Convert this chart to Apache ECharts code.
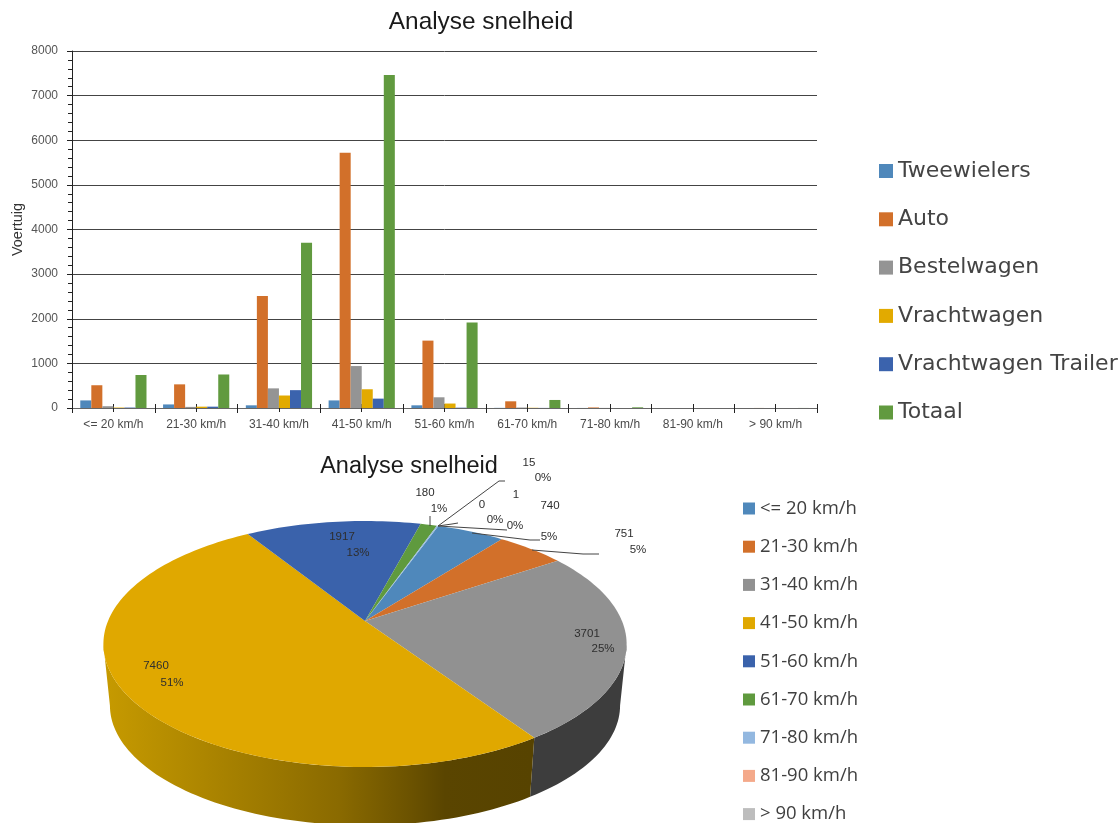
<!DOCTYPE html>
<html>
<head>
<meta charset="utf-8">
<style>html,body{margin:0;padding:0;background:#fff}#c{width:1120px;height:823px}</style>
<script src="https://cdn.jsdelivr.net/npm/echarts@6/dist/echarts.min.js"></script>
</head>
<body>
<div id="c"></div>
<script>
var speedClasses = ['<= 20 km/h','21-30 km/h','31-40 km/h','41-50 km/h','51-60 km/h','61-70 km/h','71-80 km/h','81-90 km/h','> 90 km/h'];
var tweewielers = [170,80,60,170,60,3,1,0,0];
var auto = [510,530,2510,5720,1510,150,12,0,1];
var bestelwagen = [40,25,440,940,240,10,2,0,0];
var vrachtwagen = [10,30,280,420,100,5,0,0,0];
var trailer = [10,30,400,210,7,2,0,0,0];
var totaal = [740,751,3701,7460,1917,180,15,0,1];
var barNames = ['Tweewielers','Auto','Bestelwagen','Vrachtwagen','Vrachtwagen Trailer','Totaal'];
var barColors = ['#4f88bb','#d2702a','#949494','#e2aa00','#3b63ad','#619a3f'];
var pieColors = ['#4f88bb','#d2702a','#919191','#e0a800','#3a62ab','#5f9a3e','#93b8e0','#f4a98a','#bdbdbd'];
var chartTitle = 'Analyse snelheid';

// Perspective of the tilted disc
var P = {cx:365, cy:621, rx:257, ry:118.7, k:0.187, start:19.6, depth:62, shrink:0.975};
// Where the data labels sit: value text, percent text, leader line
var labelLayout = [
  {v:[550,506], p:[549,537], line:[[472,533],[530,540],[540,540]]},
  {v:[624,534], p:[638,550], line:[[532,550],[583,554],[599,554]]},
  {v:[587,634], p:[603,649]},
  {v:[156,666], p:[172,683]},
  {v:[342,537], p:[358,553]},
  {v:[425,493], p:[439,509], line:[[430,526],[430,516]]},
  {v:[529,463], p:[543,478], line:[[438,526],[499,481],[505,481]]},
  {v:[482,505], p:[495,520], line:[[438,526],[452,524],[458,523]]},
  {v:[516,495], p:[515,526], line:[[438,526],[507,530]]}
];

var total = totaal.reduce(function(a,b){return a+b;},0);
function project(deg){
  var t = deg*Math.PI/180, u = Math.sin(t), v = Math.cos(t), s = 1/(1+P.k*v);
  return [P.cx + P.rx*u*s, P.cy - P.ry*v*s];
}
function lower(p){
  return [P.cx + (p[0]-P.cx)*P.shrink, P.cy + P.depth + (p[1]-P.cy)*P.shrink];
}
function arcPoints(a,b){
  var n = Math.max(2, Math.ceil(Math.abs(b-a)/1.5)), out = [];
  for (var i=0;i<=n;i++) out.push(project(a+(b-a)*i/n));
  return out;
}
var silhouette = Math.acos(-P.k)*180/Math.PI;
var sideFills = {
  2: '#3d3d3d',
  3: new echarts.graphic.LinearGradient(105,0,530,0,[
       {offset:0,color:'#c69a00'},{offset:0.55,color:'#8a6a00'},{offset:0.72,color:'#6b5200'},{offset:0.8,color:'#5a4500'},{offset:1,color:'#574300'}],true)
};
function sliceRenderer(i){
  return function(){
    var before = 0;
    for (var j=0;j<i;j++) before += totaal[j];
    var a = P.start + before/total*360, b = a + totaal[i]/total*360;
    var kids = [];
    var sa = Math.max(a, silhouette), sb = Math.min(b, 360-silhouette);
    if (sb > sa){
      var up = arcPoints(sa,sb), low = up.map(lower).reverse();
      kids.push({type:'polygon', shape:{points:up.concat(low)}, style:{fill:sideFills[i]||pieColors[i]}});
    }
    if (b > a){
      kids.push({type:'polygon', shape:{points:[[P.cx,P.cy]].concat(arcPoints(a,b))}, style:{fill:pieColors[i]}});
    }
    return {type:'group', children:kids};
  };
}
function labelRenderer(){
  var kids = [];
  labelLayout.forEach(function(l,i){
    if (l.line) kids.push({type:'polyline', shape:{points:l.line}, style:{fill:null, stroke:'#444', lineWidth:1}});
    var pct = Math.round(totaal[i]/total*100)+'%';
    kids.push({type:'text', style:{x:l.v[0],y:l.v[1],text:String(totaal[i]),fill:'#2e2e2e',font:'11.5px "Liberation Sans"',align:'center',verticalAlign:'middle'}});
    kids.push({type:'text', style:{x:l.p[0],y:l.p[1],text:pct,fill:'#2e2e2e',font:'11.5px "Liberation Sans"',align:'center',verticalAlign:'middle'}});
  });
  return {type:'group', children:kids};
}

var barData = [tweewielers,auto,bestelwagen,vrachtwagen,trailer,totaal];
var series = barData.map(function(d,i){
  return {type:'bar', name:barNames[i], data:d, xAxisIndex:0, yAxisIndex:0, barGap:0, barCategoryGap:'20%',
    itemStyle:{color:barColors[i]}};
});
speedClasses.forEach(function(name,i){
  series.push({type:'custom', name:name, coordinateSystem:'none', data:[[totaal[i]]], renderItem:sliceRenderer(i),
    itemStyle:{color:pieColors[i]}, silent:true, z:2});
});
series.push({type:'custom', name:'labels', coordinateSystem:'none', data:[[0]], renderItem:labelRenderer, silent:true, z:5});

function catAxis(extra){
  return Object.assign({type:'category', data:speedClasses, gridIndex:0, position:'bottom',
    axisLine:{show:true,lineStyle:{color:'#666',width:1}}, axisLabel:{show:false}, splitLine:{show:false}}, extra);
}
var chart = echarts.init(document.getElementById('c'), null, {renderer:'canvas'});
chart.setOption({
  animation:false,
  backgroundColor:'#fff',
  tooltip:{show:false},
  title:[
    {text:chartTitle, left:481, top:22, padding:0, textAlign:'center', textVerticalAlign:'middle', textStyle:{fontFamily:'Liberation Sans',fontSize:24.4,fontWeight:'normal',color:'#1a1a1a'}},
    {text:chartTitle, left:409, top:467, padding:0, textAlign:'center', textVerticalAlign:'middle', textStyle:{fontFamily:'Liberation Sans',fontSize:23.5,fontWeight:'normal',color:'#1a1a1a'}}
  ],
  legend:[
    {data:barNames, orient:'vertical', left:879, top:158, padding:0, itemWidth:14, itemHeight:14, itemGap:22.3, icon:'rect',
     textStyle:{fontFamily:'DejaVu Sans',fontSize:22,color:'#444',lineHeight:26}, selectedMode:false},
    {data:speedClasses, orient:'vertical', left:743, top:499, height:400, padding:0, itemWidth:12, itemHeight:12, itemGap:19.2, icon:'rect',
     textStyle:{fontFamily:'Open Sans',fontSize:18.5,color:'#404040',lineHeight:12}, selectedMode:false}
  ],
  grid:{left:72, right:303, top:51, bottom:415, containLabel:false, outerBoundsMode:'none'},
  xAxis:[
    catAxis({axisTick:{show:true,length:5,lineStyle:{color:'#222'}},
      axisLabel:{show:true,interval:0,margin:11,fontFamily:'Liberation Sans',fontSize:12,color:'#4a4a4a'}}),
    catAxis({axisTick:{show:true,length:4,inside:true,lineStyle:{color:'#222'}}}),
    catAxis({axisTick:{show:true,alignWithLabel:true,length:4,lineStyle:{color:'#222'}}}),
    catAxis({axisTick:{show:true,alignWithLabel:true,length:4,inside:true,lineStyle:{color:'#222'}}})
  ],
  yAxis:[
    {type:'value', min:0, max:8000, interval:1000, name:'Voertuig', nameLocation:'middle', nameRotate:90, nameGap:47, nameMoveOverlap:false,
     nameTextStyle:{fontFamily:'Liberation Sans',fontSize:14.5,color:'#333'},
     axisLine:{show:true,lineStyle:{color:'#222'}}, axisTick:{show:true,length:5,lineStyle:{color:'#222'}},
     minorTick:{show:true,splitNumber:5,length:4,lineStyle:{color:'#222'}},
     splitLine:{show:true,lineStyle:{color:'#444',width:1}},
     axisLabel:{margin:14,fontFamily:'Liberation Sans',fontSize:12,color:'#555',formatter:function(v){return String(v);}}},
    {type:'value', min:0, max:8000, interval:1000, position:'left',
     axisLine:{show:false}, axisTick:{show:false}, axisLabel:{show:false}, splitLine:{show:false},
     minorTick:{show:true,splitNumber:5,length:3,lineStyle:{color:'#222'}}}
  ],
  series:series
});
</script>
</body>
</html>
